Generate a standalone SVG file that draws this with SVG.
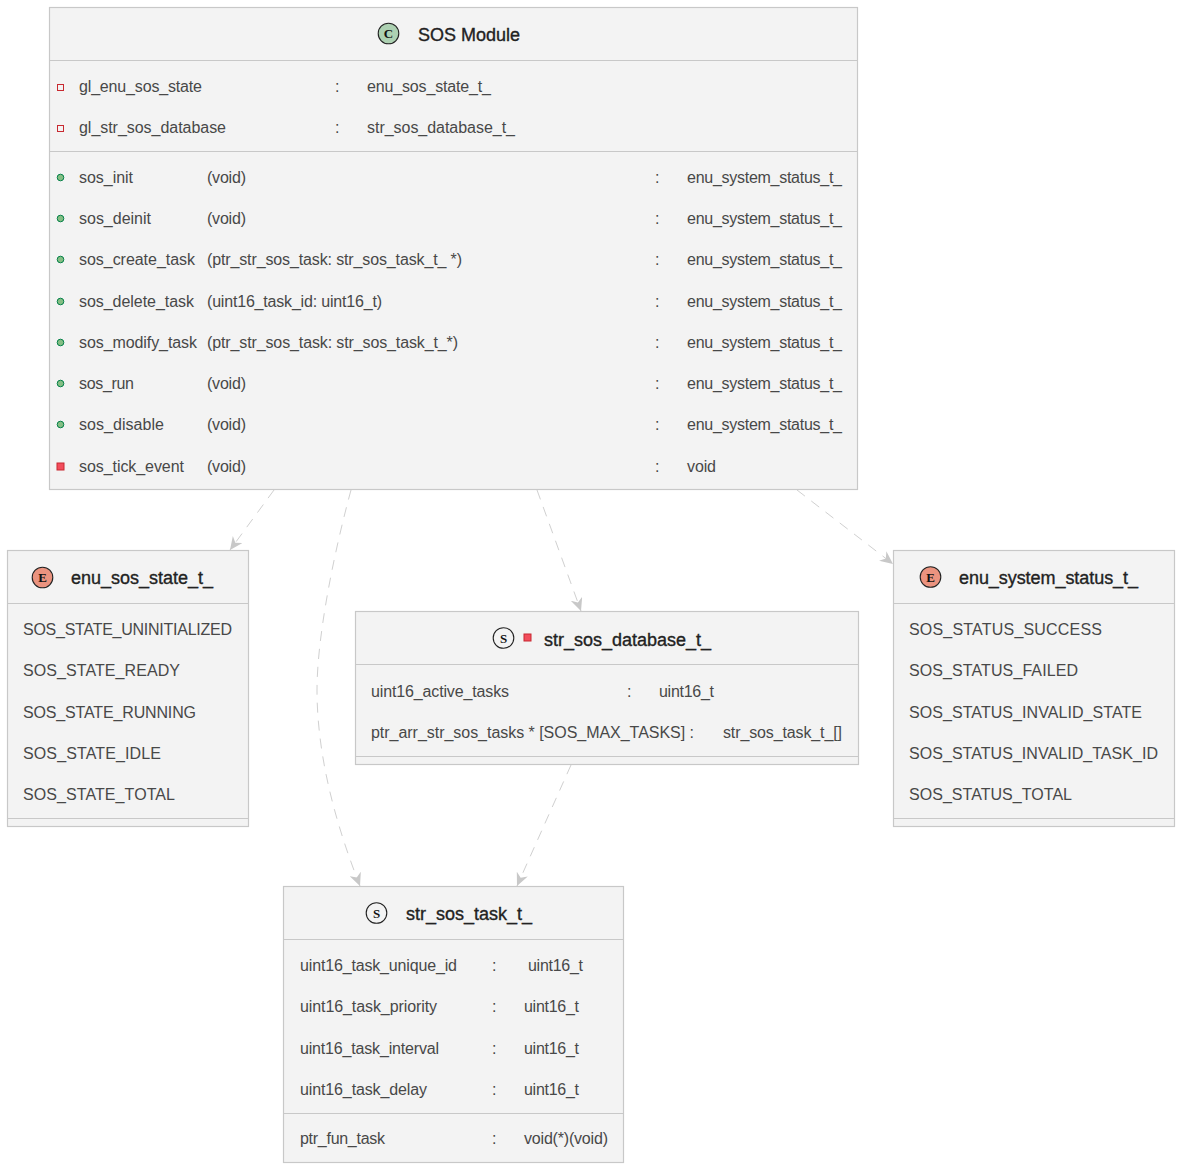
<svg xmlns="http://www.w3.org/2000/svg" width="1180" height="1168" viewBox="0 0 1180 1168">
<style>
text{font-family:"Liberation Sans",Arial,sans-serif;fill:#484848;font-size:16px}
.t{font-size:18px;font-weight:400;fill:#222;stroke:#222;stroke-width:.35}
.box{fill:#f3f3f3;stroke:#c8c8c8;stroke-width:1.2}
.sep{stroke:#c8c8c8;stroke-width:1.2;fill:none}
.ic{font-family:"Liberation Serif",serif;font-size:13px;font-weight:700;fill:#111;text-anchor:middle}
.circ{stroke:#222;stroke-width:1.1}
.pub{fill:#84be84;stroke:#038048;stroke-width:1}
.pri{fill:#f24d5c;stroke:#c82930;stroke-width:1}
.prio{fill:none;stroke:#c82930;stroke-width:1}
.c{fill:none;stroke:#d0d0d0;stroke-width:1;stroke-dasharray:10 8;marker-end:url(#a)}
</style>
<defs>
<marker id="a" markerUnits="userSpaceOnUse" viewBox="0 0 14 12" refX="13" refY="6" markerWidth="14" markerHeight="12" orient="auto">
<path d="M13 6L0 0L4 6L0 12Z" fill="#c8c8c8"/>
</marker>
</defs>
<g id="connectors">
<path class="c" d="M274 490L230 550"/>
<path class="c" d="M351 490C332 560 317 640 317 690C317 760 338 830 360 886"/>
<path class="c" d="M537 490L581 611"/>
<path class="c" d="M797 490L893 564"/>
<path class="c" d="M571 765L517 886"/>
</g>
<g id="sos_module">
<rect class="box" x="49.500" y="7.500" width="808" height="482"/>
<path class="sep" d="M49.500 60.500H857.500M49.500 151.500H857.500"/>
<circle cx="388.500" cy="33.500" r="10.300" fill="#add1b2" class="circ"/>
<text class="ic" x="388.500" y="37.500">C</text>
<text class="t" x="418" y="41" textLength="102">SOS Module</text>
<rect class="prio" x="57.500" y="84.500" width="6" height="6"/>
<text x="79" y="92" textLength="123">gl_enu_sos_state</text><text x="335" y="92">:</text><text x="367" y="92" textLength="124">enu_sos_state_t_</text>
<rect class="prio" x="57.500" y="125.500" width="6" height="6"/>
<text x="79" y="133" textLength="147">gl_str_sos_database</text><text x="335" y="133">:</text><text x="367" y="133" textLength="148">str_sos_database_t_</text>
<circle class="pub" cx="60.500" cy="177.500" r="3.300"/>
<text x="79" y="183" textLength="54">sos_init</text><text x="207" y="183" textLength="39">(void)</text><text x="655" y="183">:</text><text x="687" y="183" textLength="155">enu_system_status_t_</text>
<circle class="pub" cx="60.500" cy="218.500" r="3.300"/>
<text x="79" y="224" textLength="72">sos_deinit</text><text x="207" y="224" textLength="39">(void)</text><text x="655" y="224">:</text><text x="687" y="224" textLength="155">enu_system_status_t_</text>
<circle class="pub" cx="60.500" cy="259.500" r="3.300"/>
<text x="79" y="265" textLength="116">sos_create_task</text><text x="207" y="265" textLength="255">(ptr_str_sos_task: str_sos_task_t_ *)</text><text x="655" y="265">:</text><text x="687" y="265" textLength="155">enu_system_status_t_</text>
<circle class="pub" cx="60.500" cy="301.500" r="3.300"/>
<text x="79" y="307" textLength="115">sos_delete_task</text><text x="207" y="307" textLength="175">(uint16_task_id: uint16_t)</text><text x="655" y="307">:</text><text x="687" y="307" textLength="155">enu_system_status_t_</text>
<circle class="pub" cx="60.500" cy="342.500" r="3.300"/>
<text x="79" y="348" textLength="118">sos_modify_task</text><text x="207" y="348" textLength="251">(ptr_str_sos_task: str_sos_task_t_*)</text><text x="655" y="348">:</text><text x="687" y="348" textLength="155">enu_system_status_t_</text>
<circle class="pub" cx="60.500" cy="383.500" r="3.300"/>
<text x="79" y="389" textLength="55">sos_run</text><text x="207" y="389" textLength="39">(void)</text><text x="655" y="389">:</text><text x="687" y="389" textLength="155">enu_system_status_t_</text>
<circle class="pub" cx="60.500" cy="424.500" r="3.300"/>
<text x="79" y="430" textLength="85">sos_disable</text><text x="207" y="430" textLength="39">(void)</text><text x="655" y="430">:</text><text x="687" y="430" textLength="155">enu_system_status_t_</text>
<rect class="pri" x="57" y="463" width="7" height="7"/>
<text x="79" y="472" textLength="105">sos_tick_event</text><text x="207" y="472" textLength="39">(void)</text><text x="655" y="472">:</text><text x="687" y="472" textLength="29">void</text>
</g>
<g id="enu_sos_state_t_">
<rect class="box" x="7.500" y="550.500" width="241" height="276"/>
<path class="sep" d="M7.500 603.500H248.500M7.500 818.500H248.500"/>
<circle cx="42.500" cy="577.500" r="10.300" fill="#eb937f" class="circ"/>
<text class="ic" x="42.500" y="582">E</text>
<text class="t" x="71" y="584" textLength="142">enu_sos_state_t_</text>
<text x="23" y="635" textLength="209">SOS_STATE_UNINITIALIZED</text>
<text x="23" y="676" textLength="157">SOS_STATE_READY</text>
<text x="23" y="718" textLength="173">SOS_STATE_RUNNING</text>
<text x="23" y="759" textLength="138">SOS_STATE_IDLE</text>
<text x="23" y="800" textLength="152">SOS_STATE_TOTAL</text>
</g>
<g id="str_sos_database_t_">
<rect class="box" x="355.500" y="611.500" width="503" height="153"/>
<path class="sep" d="M355.500 664.500H858.500M355.500 756.500H858.500"/>
<circle cx="503.500" cy="638" r="10.300" fill="#f3f3f3" class="circ"/>
<text class="ic" x="503.500" y="642.500">S</text>
<rect class="pri" x="524" y="634" width="7" height="7"/>
<text class="t" x="544" y="646" textLength="167">str_sos_database_t_</text>
<text x="371" y="697" textLength="138">uint16_active_tasks</text><text x="627" y="697">:</text><text x="659" y="697" textLength="55">uint16_t</text>
<text x="371" y="738" textLength="323">ptr_arr_str_sos_tasks * [SOS_MAX_TASKS] :</text><text x="723" y="738" textLength="119">str_sos_task_t_[]</text>
</g>
<g id="enu_system_status_t_">
<rect class="box" x="893.500" y="550.500" width="281" height="276"/>
<path class="sep" d="M893.500 603.500H1174.500M893.500 818.500H1174.500"/>
<circle cx="930.500" cy="577" r="10.300" fill="#eb937f" class="circ"/>
<text class="ic" x="930.500" y="581.500">E</text>
<text class="t" x="959" y="584" textLength="179">enu_system_status_t_</text>
<text x="909" y="635" textLength="193">SOS_STATUS_SUCCESS</text>
<text x="909" y="676" textLength="169">SOS_STATUS_FAILED</text>
<text x="909" y="718" textLength="233">SOS_STATUS_INVALID_STATE</text>
<text x="909" y="759" textLength="249">SOS_STATUS_INVALID_TASK_ID</text>
<text x="909" y="800" textLength="163">SOS_STATUS_TOTAL</text>
</g>
<g id="str_sos_task_t_">
<rect class="box" x="283.500" y="886.500" width="340" height="276"/>
<path class="sep" d="M283.500 939.500H623.500M283.500 1113.500H623.500"/>
<circle cx="376.500" cy="913" r="10.300" fill="#f3f3f3" class="circ"/>
<text class="ic" x="376.500" y="917.500">S</text>
<text class="t" x="406" y="920" textLength="126">str_sos_task_t_</text>
<text x="300" y="971" textLength="157">uint16_task_unique_id</text><text x="492" y="971">:</text><text x="528" y="971" textLength="55">uint16_t</text>
<text x="300" y="1012" textLength="137">uint16_task_priority</text><text x="492" y="1012">:</text><text x="524" y="1012" textLength="55">uint16_t</text>
<text x="300" y="1054" textLength="139">uint16_task_interval</text><text x="492" y="1054">:</text><text x="524" y="1054" textLength="55">uint16_t</text>
<text x="300" y="1095" textLength="127">uint16_task_delay</text><text x="492" y="1095">:</text><text x="524" y="1095" textLength="55">uint16_t</text>
<text x="300" y="1144" textLength="85">ptr_fun_task</text><text x="492" y="1144">:</text><text x="524" y="1144" textLength="84">void(*)(void)</text>
</g>
</svg>
